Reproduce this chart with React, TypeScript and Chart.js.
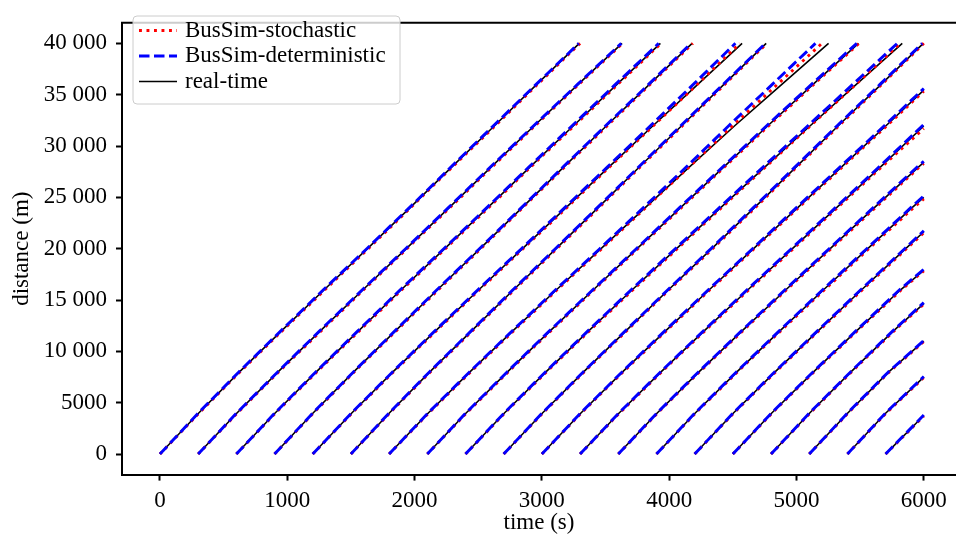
import { useEffect, useRef } from "react";
import { Chart, registerables } from "chart.js";

Chart.register(...registerables);

// ---------- data ----------
const busDepartures = [0, 300, 600, 900, 1200, 1500, 1800, 2100, 2400, 2700, 3000, 3300, 3600, 3900, 4200, 4500, 4800, 5100, 5400, 5700];
const distanceMarks = [0, 4000, 8000, 12000, 16000, 20000, 24000, 28000, 32000, 36000, 40000];
const simulationEnd = 6000;

// absolute time (s) at which each bus passes each distance mark
const realTimeTimes = [
  [0, 305, 625, 955, 1290, 1630, 1965, 2295, 2630, 2960, 3294],
  [300, 605, 928, 1260, 1595, 1935, 2272, 2605, 2942, 3285, 3630],
  [600, 905, 1228, 1560, 1895, 2237, 2575, 2910, 3250, 3590, 3931],
  [900, 1203, 1522, 1850, 2180, 2515, 2845, 3175, 3510, 3845, 4180],
  [1200, 1507, 1830, 2165, 2505, 2848, 3190, 3530, 3875, 4225, 4573],
  [1500, 1802, 2120, 2448, 2778, 3112, 3442, 3770, 4100, 4430, 4762],
  [1800, 2108, 2435, 2772, 3115, 3465, 3812, 4162, 4517, 4885, 5252],
  [2100, 2405, 2730, 3065, 3405, 3748, 4090, 4432, 4777, 5130, 5487],
  [2400, 2706, 3032, 3368, 3710, 4058, 4405, 4755, 5110, 5470, 5831],
  [2700, 3005, 3328, 3660, 3995, 4335, 4670, 5000, 5330, 5665, 5996],
  [3000, 3307, 3634, 3972, 4315, 4663, 5010, 5357, 5705],
  [3300, 3607, 3936, 4275, 4619, 4968, 5315, 5663],
  [3600, 3906, 4234, 4573, 4917, 5265, 5612, 5962],
  [3900, 4205, 4532, 4870, 5213, 5560, 5908],
  [4200, 4505, 4832, 5170, 5512, 5858],
  [4500, 4806, 5134, 5472, 5818],
  [4800, 5104, 5428, 5762],
  [5100, 5403, 5725],
  [5400, 5702],
  [5700],
];
// distance (m) reached at the end of the simulation for buses still running
const realTimeEnd = [null, null, null, null, null, null, null, null, null, null, 35450, 31950, 28400, 25000, 21650, 17900, 14650, 11000, 7500, 3750];

const deterministicTimes = [
  [0, 302, 620, 950, 1284, 1625, 1960, 2290, 2622, 2955, 3290],
  [300, 603, 925, 1255, 1590, 1930, 2266, 2600, 2938, 3280, 3624],
  [600, 903, 1224, 1555, 1888, 2230, 2568, 2902, 3240, 3578, 3918],
  [900, 1201, 1520, 1846, 2176, 2510, 2840, 3170, 3503, 3838, 4172],
  [1200, 1505, 1827, 2160, 2498, 2840, 3180, 3518, 3855, 4190, 4520],
  [1500, 1800, 2117, 2445, 2773, 3106, 3436, 3764, 4093, 4424, 4756],
  [1800, 2106, 2432, 2768, 3108, 3455, 3798, 4138, 4470, 4810, 5149],
  [2100, 2403, 2727, 3060, 3400, 3742, 4082, 4424, 4768, 5118, 5474],
  [2400, 2704, 3028, 3362, 3702, 4048, 4395, 4742, 5092, 5442, 5792],
  [2700, 3003, 3325, 3656, 3990, 4328, 4662, 4992, 5322, 5656, 5988],
  [3000, 3305, 3630, 3966, 4308, 4655, 5000, 5346, 5692],
  [3300, 3605, 3932, 4270, 4612, 4960, 5306, 5652],
  [3600, 3904, 4230, 4568, 4910, 5257, 5603, 5952],
  [3900, 4203, 4528, 4865, 5206, 5552, 5898],
  [4200, 4503, 4828, 5165, 5505, 5850],
  [4500, 4804, 5130, 5467, 5810],
  [4800, 5102, 5425, 5757],
  [5100, 5401, 5722],
  [5400, 5700],
  [5700],
];
const deterministicEnd = [null, null, null, null, null, null, null, null, null, null, 35600, 32100, 28500, 25150, 21750, 18000, 14750, 11050, 7550, 3800];

const stochasticTimes = [
  [0, 308, 628, 960, 1296, 1636, 1970, 2300, 2636, 2966, 3300],
  [300, 608, 932, 1266, 1600, 1940, 2278, 2612, 2948, 3290, 3634],
  [600, 908, 1232, 1566, 1900, 2242, 2582, 2916, 3256, 3596, 3936],
  [900, 1206, 1526, 1856, 2186, 2520, 2850, 3182, 3516, 3850, 4186],
  [1200, 1510, 1834, 2170, 2510, 2852, 3196, 3535, 3878, 4220, 4555],
  [1500, 1805, 2124, 2453, 2784, 3118, 3448, 3776, 4106, 4436, 4768],
  [1800, 2111, 2440, 2778, 3120, 3470, 3816, 4160, 4500, 4850, 5200],
  [2100, 2408, 2735, 3070, 3410, 3754, 4096, 4438, 4784, 5136, 5492],
  [2400, 2709, 3036, 3373, 3716, 4064, 4412, 4760, 5112, 5466, 5815],
  [2700, 3008, 3332, 3665, 4000, 4341, 4676, 5006, 5336, 5670, 6000],
  [3000, 3310, 3638, 3977, 4320, 4668, 5016, 5364, 5712],
  [3300, 3610, 3940, 4280, 4625, 4975, 5322, 5672],
  [3600, 3909, 4238, 4578, 4922, 5272, 5620, 5970],
  [3900, 4208, 4536, 4876, 5220, 5568, 5920],
  [4200, 4508, 4836, 5175, 5518, 5864],
  [4500, 4809, 5138, 5477, 5824],
  [4800, 5107, 5432, 5767],
  [5100, 5406, 5729],
  [5400, 5705],
  [5700],
];
const stochasticEnd = [null, null, null, null, null, null, null, null, null, null, 35350, 31700, 28300, 24850, 21550, 17850, 14600, 10950, 7450, 3700];

const xTickValues = [0, 1000, 2000, 3000, 4000, 5000, 6000];
const xTickLabels = ["0", "1000", "2000", "3000", "4000", "5000", "6000"];
const yTickValues = [0, 5000, 10000, 15000, 20000, 25000, 30000, 35000, 40000];
const yTickLabels = ["0", "5000", "10 000", "15 000", "20 000", "25 000", "30 000", "35 000", "40 000"];
const seriesNames = ["BusSim-stochastic", "BusSim-deterministic", "real-time"];

// ---------- styling ----------
const FONT = "'Liberation Serif', 'DejaVu Serif', serif";
const FONT_SIZE = 23;
const RED = "#ff0000";
const BLUE = "#0000ff";
const BLACK = "#000000";
const RED_W = 2.9;
const BLUE_W = 2.9;
const BLACK_W = 1.6;
const RED_DASH = [2.9, 4.6];
const BLUE_DASH = [10.5, 4.5];

function trajectory(times: number[], end: number | null) {
  const pts = times.map((t, i) => ({ x: t, y: distanceMarks[i] }));
  if (end !== null) pts.push({ x: simulationEnd, y: end });
  return pts;
}

const frameAndLegend = {
  id: "frameAndLegend",
  afterDraw(chart: any) {
    const { ctx, chartArea } = chart;
    ctx.save();
    // top spine
    ctx.strokeStyle = BLACK;
    ctx.lineWidth = 2;
    ctx.setLineDash([]);
    ctx.beginPath();
    ctx.moveTo(chartArea.left - 1, chartArea.top);
    ctx.lineTo(chartArea.right, chartArea.top);
    ctx.stroke();

    // legend box
    const bx = 133, by = 16, bw = 267, bh = 88, r = 4;
    ctx.beginPath();
    ctx.moveTo(bx + r, by);
    ctx.lineTo(bx + bw - r, by);
    ctx.quadraticCurveTo(bx + bw, by, bx + bw, by + r);
    ctx.lineTo(bx + bw, by + bh - r);
    ctx.quadraticCurveTo(bx + bw, by + bh, bx + bw - r, by + bh);
    ctx.lineTo(bx + r, by + bh);
    ctx.quadraticCurveTo(bx, by + bh, bx, by + bh - r);
    ctx.lineTo(bx, by + r);
    ctx.quadraticCurveTo(bx, by, bx + r, by);
    ctx.closePath();
    ctx.fillStyle = "rgba(255,255,255,0.8)";
    ctx.fill();
    ctx.strokeStyle = "#cccccc";
    ctx.lineWidth = 1;
    ctx.stroke();

    const rows = [30.5, 56, 81.5];
    const styles = [
      { color: RED, width: RED_W, dash: RED_DASH },
      { color: BLUE, width: BLUE_W, dash: BLUE_DASH },
      { color: BLACK, width: BLACK_W, dash: [] as number[] },
    ];
    ctx.font = `${FONT_SIZE}px ${FONT}`;
    ctx.textBaseline = "middle";
    ctx.textAlign = "left";
    rows.forEach((y, i) => {
      const s = styles[i];
      ctx.strokeStyle = s.color;
      ctx.lineWidth = s.width;
      ctx.setLineDash(s.dash);
      ctx.lineCap = "butt";
      ctx.beginPath();
      ctx.moveTo(139, y);
      ctx.lineTo(177, y);
      ctx.stroke();
      ctx.fillStyle = BLACK;
      ctx.fillText(seriesNames[i], 185, y);
    });
    ctx.restore();
  },
};

export default function App() {
  const canvasRef = useRef<HTMLCanvasElement | null>(null);

  useEffect(() => {
    document.body.style.margin = "0";
    const canvas = canvasRef.current;
    if (!canvas) return;

    const datasets: any[] = [];
    busDepartures.forEach((_, b) => {
      datasets.push({
        label: seriesNames[1],
        data: trajectory(deterministicTimes[b], deterministicEnd[b]),
        borderColor: BLUE,
        borderWidth: BLUE_W,
        borderDash: BLUE_DASH,
        order: 0,
      });
      datasets.push({
        label: seriesNames[0],
        data: trajectory(stochasticTimes[b], stochasticEnd[b]),
        borderColor: RED,
        borderWidth: RED_W,
        borderDash: RED_DASH,
        order: 1,
      });
      datasets.push({
        label: seriesNames[2],
        data: trajectory(realTimeTimes[b], realTimeEnd[b]),
        borderColor: BLACK,
        borderWidth: BLACK_W,
        order: 2,
      });
    });
    datasets.forEach((d) => {
      d.pointRadius = 0;
      d.pointHoverRadius = 0;
      d.fill = false;
      d.tension = 0;
      d.borderCapStyle = "butt";
      d.borderJoinStyle = "round";
    });

    const font = { family: FONT, size: FONT_SIZE };

    const chart = new Chart(canvas, {
      type: "line",
      data: { datasets },
      options: {
        animation: false,
        responsive: false,
        devicePixelRatio: 1,
        events: [],
        layout: { padding: { top: 7, left: 0, right: 0, bottom: 0 } },
        plugins: { legend: { display: false }, tooltip: { enabled: false } },
        scales: {
          x: {
            type: "linear",
            min: -298,
            max: 6253,
            afterFit: (s: any) => {
              s.height = 68.4;
            },
            afterBuildTicks: (s: any) => {
              s.ticks = xTickValues.map((v) => ({ value: v }));
            },
            ticks: {
              callback: (v: any) => xTickLabels[xTickValues.indexOf(Number(v))],
              font,
              color: BLACK,
              padding: 7,
              maxRotation: 0,
              autoSkip: false,
            },
            grid: { drawOnChartArea: false, drawTicks: true, tickLength: 6, tickWidth: 2, tickColor: BLACK },
            border: { display: true, color: BLACK, width: 2 },
            title: { display: true, text: "time (s)", font, color: BLACK, padding: { top: 0, bottom: 6 } },
          },
          y: {
            type: "linear",
            min: -2000,
            max: 42000,
            afterFit: (s: any) => {
              s.width = 122;
            },
            afterBuildTicks: (s: any) => {
              s.ticks = yTickValues.map((v) => ({ value: v }));
            },
            ticks: {
              callback: (v: any) => yTickLabels[yTickValues.indexOf(Number(v))],
              font,
              color: BLACK,
              padding: 9,
              autoSkip: false,
            },
            grid: { drawOnChartArea: false, drawTicks: true, tickLength: 6, tickWidth: 2, tickColor: BLACK },
            border: { display: true, color: BLACK, width: 2 },
            title: { display: true, text: "distance (m)", font, color: BLACK, padding: { top: 8, bottom: 0 } },
          },
        },
      },
      plugins: [frameAndLegend],
    } as any);

    return () => chart.destroy();
  }, []);

  return (
    <div style={{ position: "fixed", left: 0, top: 0, width: 956, height: 543, overflow: "hidden", background: "#fff" }}>
      <canvas ref={canvasRef} width={956} height={543} style={{ display: "block" }} />
    </div>
  );
}
